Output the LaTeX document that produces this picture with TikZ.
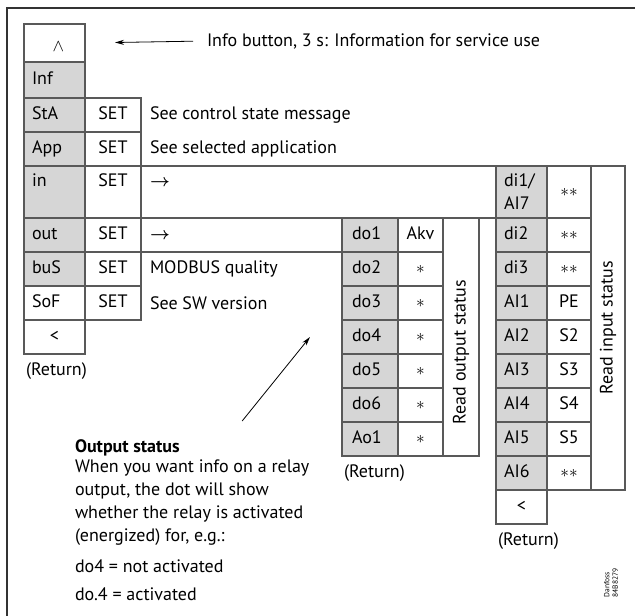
\documentclass[tikz,border=0pt]{standalone}
\usepackage{amsmath}
\usepackage{fontspec}
\setmainfont{PT Sans}
\usetikzlibrary{arrows.meta, positioning}

\definecolor{keygray}{gray}{0.84}
\definecolor{linegray}{gray}{0.35}

\begin{document}
\begin{tikzpicture}[
    x=1pt, y=-1pt,
    node distance=0pt,
    font=\fontsize{18}{21}\selectfont,
    cell/.style={draw=linegray, line width=1.1pt, outer sep=0pt, inner xsep=0pt, inner ysep=0pt, minimum height=34pt, text height=13pt, text depth=4pt},
    menu/.style={cell, fill=keygray, text width=45pt, inner xsep=8pt, align=left},
    blankcell/.style={cell, minimum width=61pt},
    setbox/.style={cell, minimum width=56pt},
    descbox/.style={cell, inner xsep=9pt, align=left},
    docell/.style={cell, fill=keygray, text width=36pt, inner xsep=10pt, align=left},
    dicell/.style={cell, fill=keygray, text width=35pt, inner xsep=8pt, align=left},
    valcell/.style={cell, minimum width=45pt},
    tall/.style={minimum height=52pt, text height=20pt, text depth=32pt},
    statusbox/.style={cell, text height=, text depth=},
    note/.style={inner sep=0pt, outer sep=2pt, align=left},
    arrow/.style={-{Stealth[length=9pt, width=5pt]}, line width=0.8pt}
]
    \useasboundingbox (0,0) rectangle (635,616);
    \draw[line width=1.4pt, draw=black!80] (7,616) -- (7,8) -- (635,8);

    % main menu
    \node[blankcell, minimum height=38pt, anchor=north west] (up) at (24,24) {\hspace*{8pt}\raisebox{-4pt}{$\wedge$}};
    \node[note, anchor=west] (info) at (205,41) {Info button, 3 s: Information for service use};
    \node[menu, minimum height=36pt, below=of up] (inf) {Inf};
    \node[menu, below=of inf] (sta) {StA};
    \node[setbox, right=of sta] (staset) {SET};
    \node[note, right=7pt of staset] (stadesc) {See control state message};
    \node[menu, below=of sta] (app) {App};
    \node[setbox, right=of app] (appset) {SET};
    \node[note, right=7pt of appset] (appdesc) {See selected application};
    \node[menu, tall, below=of app] (inp) {in};
    \node[setbox, tall, right=of inp] (inpset) {SET};
    \node[descbox, tall, text width=337pt, right=of inpset] (inpdesc) {$\boldsymbol{\rightarrow}$};
    \node[menu, below=of inp] (outp) {out};
    \node[setbox, right=of outp] (outpset) {SET};
    \node[descbox, text width=183pt, right=of outpset] (outpdesc) {$\boldsymbol{\rightarrow}$};
    \node[menu, below=of outp] (bus) {buS};
    \node[setbox, right=of bus] (busset) {SET};
    \node[note, right=7pt of busset] (busdesc) {MODBUS quality};
    \node[menu, fill=white, below=of bus] (sof) {SoF};
    \node[setbox, right=of sof] (sofset) {SET};
    \node[note, right=7pt of sofset] (sofdesc) {See SW version};
    \node[blankcell, below=of sof] (back) {<};
    \node[note, anchor=north west] (ret) at ([yshift=-7pt]back.south west) {(Return)};

    % output status
    \node[docell, right=of outpdesc] (do1) {do1};
    \node[valcell, right=of do1] (v1) {Akv};
    \node[docell, below=of do1] (do2) {do2};
    \node[valcell, right=of do2] (v2) {$\ast$};
    \node[docell, below=of do2] (do3) {do3};
    \node[valcell, right=of do3] (v3) {$\ast$};
    \node[docell, below=of do3] (do4) {do4};
    \node[valcell, right=of do4] (v4) {$\ast$};
    \node[docell, below=of do4] (do5) {do5};
    \node[valcell, right=of do5] (v5) {$\ast$};
    \node[docell, below=of do5] (do6) {do6};
    \node[valcell, right=of do6] (v6) {$\ast$};
    \node[docell, below=of do6] (ao1) {Ao1};
    \node[valcell, right=of ao1] (v7) {$\ast$};
    \node[statusbox, minimum width=36pt, minimum height=238pt, anchor=north west] (outstat) at (v1.north east) {\rotatebox{90}{Read output status\hspace{30pt}}};
    \node[note, anchor=north west] (ret2) at ([yshift=-7pt]ao1.south west) {(Return)};

    % input status
    \node[dicell, minimum height=52pt, text height=, text depth=, right=of inpdesc] (di1) {di1/\\[2pt]AI7};
    \node[valcell, minimum width=44pt, minimum height=52pt, right=of di1] (w1) {$\ast\ast$};
    \node[dicell, below=of di1] (di2) {di2};
    \node[valcell, minimum width=44pt, right=of di2] (w2) {$\ast\ast$};
    \node[dicell, below=of di2] (di3) {di3};
    \node[valcell, minimum width=44pt, right=of di3] (w3) {$\ast\ast$};
    \node[dicell, below=of di3] (ai1) {AI1};
    \node[valcell, minimum width=44pt, right=of ai1] (w4) {PE};
    \node[dicell, below=of ai1] (ai2) {AI2};
    \node[valcell, minimum width=44pt, right=of ai2] (w5) {S2};
    \node[dicell, below=of ai2] (ai3) {AI3};
    \node[valcell, minimum width=44pt, right=of ai3] (w6) {S3};
    \node[dicell, below=of ai3] (ai4) {AI4};
    \node[valcell, minimum width=44pt, right=of ai4] (w7) {S4};
    \node[dicell, below=of ai4] (ai5) {AI5};
    \node[valcell, minimum width=44pt, right=of ai5] (w8) {S5};
    \node[dicell, below=of ai5] (ai6) {AI6};
    \node[valcell, minimum width=44pt, right=of ai6] (w9) {$\ast\ast$};
    \node[statusbox, minimum width=34pt, minimum height=324pt, anchor=north west] (instat) at (w1.north east) {\rotatebox{90}{Read input status}};
    \node[blankcell, minimum width=51pt, below=of ai6] (diback) {<};
    \node[note, anchor=north west] (ret3) at ([yshift=-7pt]diback.south west) {(Return)};

    % explanation
    \node[note, anchor=north west, font=\fontsize{18}{23}\selectfont] (outnote) at (73,438)
        {\textbf{Output status}\\[-3pt]When you want info on a relay\\output, the dot will show\\whether the relay is activated\\(energized) for, e.g.:\\[8pt]do4 = not activated\\[5pt]do.4 = activated};
    \node[note, rotate=90, font=\fontsize{7.5}{8.5}\selectfont] (code) at (611,583) {Danfoss\\84B8279};

    \draw[arrow, shorten <=12pt, shorten >=30pt] (info.west) -- (up.east);
    \draw[arrow] ([xshift=50pt, yshift=17pt]outnote.north) -- ([xshift=-32pt]do4.west);
\end{tikzpicture}
\end{document}
